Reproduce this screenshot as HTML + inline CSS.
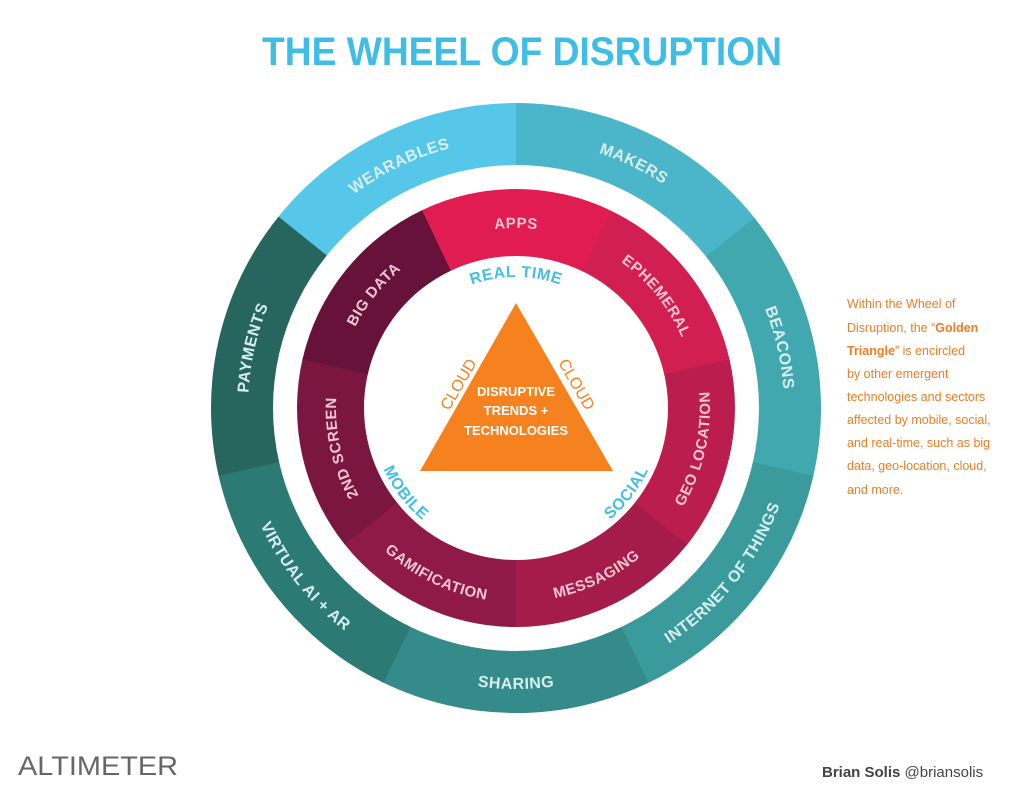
<!DOCTYPE html>
<html><head><meta charset="utf-8"><style>
html,body{margin:0;padding:0;background:#fff;width:1024px;height:791px;overflow:hidden}
svg{display:block;font-family:"Liberation Sans",sans-serif}
</style></head><body>
<svg id="s" width="1024" height="791" viewBox="0 0 1024 791">
<defs id="d"></defs>
<g id="segs"></g>
<polygon points="516,303 420,471 613,471" fill="#f5821f"/>
<text x="522" y="65" text-anchor="middle" font-size="40" font-weight="bold" fill="#3fbde4" textLength="520" lengthAdjust="spacingAndGlyphs">THE WHEEL OF DISRUPTION</text>
<g font-size="16" font-weight="bold" fill="#d8eef0" letter-spacing="0.5">
<text><textPath href="#o0" startOffset="50%" text-anchor="middle">WEARABLES</textPath></text>
<text><textPath href="#o1" startOffset="50%" text-anchor="middle">MAKERS</textPath></text>
<text><textPath href="#o2" startOffset="50%" text-anchor="middle">BEACONS</textPath></text>
<text><textPath href="#o3" startOffset="50%" text-anchor="middle">INTERNET OF THINGS</textPath></text>
<text><textPath href="#o4" startOffset="50%" text-anchor="middle">SHARING</textPath></text>
<text><textPath href="#o5" startOffset="50%" text-anchor="middle">VIRTUAL AI + AR</textPath></text>
<text><textPath href="#o6" startOffset="50%" text-anchor="middle">PAYMENTS</textPath></text>
</g>
<g font-size="15" font-weight="bold" fill="#f3c6d2" letter-spacing="0.5">
<text><textPath href="#i0" startOffset="50%" text-anchor="middle">APPS</textPath></text>
<text><textPath href="#i1" startOffset="50%" text-anchor="middle">EPHEMERAL</textPath></text>
<text><textPath href="#i2" startOffset="50%" text-anchor="middle">GEO LOCATION</textPath></text>
<text><textPath href="#i3" startOffset="50%" text-anchor="middle">MESSAGING</textPath></text>
<text><textPath href="#i4" startOffset="50%" text-anchor="middle">GAMIFICATION</textPath></text>
<text><textPath href="#i5" startOffset="50%" text-anchor="middle">2ND SCREEN</textPath></text>
<text><textPath href="#i6" startOffset="50%" text-anchor="middle">BIG DATA</textPath></text>
</g>
<g font-size="16" font-weight="bold" fill="#45bde6" letter-spacing="0.5">
<text><textPath href="#rt" startOffset="50%" text-anchor="middle">REAL  TIME</textPath></text>
<text><textPath href="#mb" startOffset="50%" text-anchor="middle">MOBILE</textPath></text>
<text><textPath href="#sc" startOffset="50%" text-anchor="middle">SOCIAL</textPath></text>
</g>
<text x="0" y="0" font-size="16" fill="#f5821f" text-anchor="middle" transform="translate(463,387) rotate(-60)">CLOUD</text>
<text x="0" y="0" font-size="16" fill="#f5821f" text-anchor="middle" transform="translate(572,387) rotate(60)">CLOUD</text>
<g font-size="13" font-weight="bold" fill="#fff" text-anchor="middle">
<text x="516" y="396">DISRUPTIVE</text>
<text x="516" y="415">TRENDS +</text>
<text x="516" y="435">TECHNOLOGIES</text>
</g>
<g font-size="12.5" fill="#f07c22">
<text x="847" y="308">Within the Wheel of</text>
<text x="847" y="332">Disruption, the “<tspan font-weight="bold">Golden</tspan></text>
<text x="847" y="355"><tspan font-weight="bold">Triangle</tspan>” is encircled</text>
<text x="847" y="378">by other emergent</text>
<text x="847" y="401">technologies and sectors</text>
<text x="847" y="424">affected by mobile, social,</text>
<text x="847" y="447">and real-time, such as big</text>
<text x="847" y="470">data, geo-location, cloud,</text>
<text x="847" y="494">and more.</text>
</g>
<text x="18" y="775" font-size="27" fill="#666" textLength="160" lengthAdjust="spacingAndGlyphs">ALTIMETER</text>
<text x="822" y="777" font-size="15" fill="#444"><tspan font-weight="bold">Brian Solis</tspan> @briansolis</text>
</svg>
<script>
var cx=516,cy=408,NS="http://www.w3.org/2000/svg";
function P(r,a){a=a*Math.PI/180;return [cx+r*Math.sin(a),cy-r*Math.cos(a)];}
function arc(r,a1,a2){var p=P(r,a1),q=P(r,a2),large=Math.abs(a2-a1)>180?1:0,sw=a2>a1?1:0;
return "M"+p[0]+" "+p[1]+" A"+r+" "+r+" 0 "+large+" "+sw+" "+q[0]+" "+q[1];}
function seg(r1,r2,a1,a2,c){var p1=P(r2,a1),p2=P(r2,a2),p3=P(r1,a2),p4=P(r1,a1);
var d="M"+p1+" A"+r2+" "+r2+" 0 0 1 "+p2+" L"+p3+" A"+r1+" "+r1+" 0 0 0 "+p4+"Z";
var e=document.createElementNS(NS,"path");e.setAttribute("d",d);e.setAttribute("fill",c);
document.getElementById("segs").appendChild(e);}
function path(id,d){var e=document.createElementNS(NS,"path");e.setAttribute("id",id);e.setAttribute("d",d);e.setAttribute("fill","none");document.getElementById("d").appendChild(e);}
var S=360/7;
var oc=["#56c7e9","#4bb5c9","#41a8b0","#3b9b9c","#348b89","#2c7a74","#27665f"];
var os=[-S,0,S,2*S,3*S,4*S,5*S];
for(var i=0;i<7;i++){seg(243,305,os[i],os[i]+S+0.3,oc[i]);}
var ic=["#e01c50","#d21f52","#bc1d4f","#a51c4a","#8f1a47","#7a1640","#66123a"];
for(var i=0;i<7;i++){var a=-S/2+i*S;seg(152,219,a,a+S+0.3,ic[i]);}
for(var i=0;i<7;i++){var a1=os[i],a2=os[i]+S,m=(a1+a2)/2;
 var ccw=(m>100&&m<260);
 if(ccw) path("o"+i,arc(281,a2+15,a1-15)); else path("o"+i,arc(268,a1-15,a2+15));}
for(var i=0;i<7;i++){var m=i*S; var a1=m-S/2,a2=m+S/2;
 var ccw=(m>100&&m<240);
 if(ccw) path("i"+i,arc(194,a2+20,a1-20)); else path("i"+i,arc(180,a1-20,a2+20));}
path("rt",arc(131,-60,60));
path("mb",arc(146,-90,-165));
path("sc",arc(146,165,90));
</script>
</body></html>
